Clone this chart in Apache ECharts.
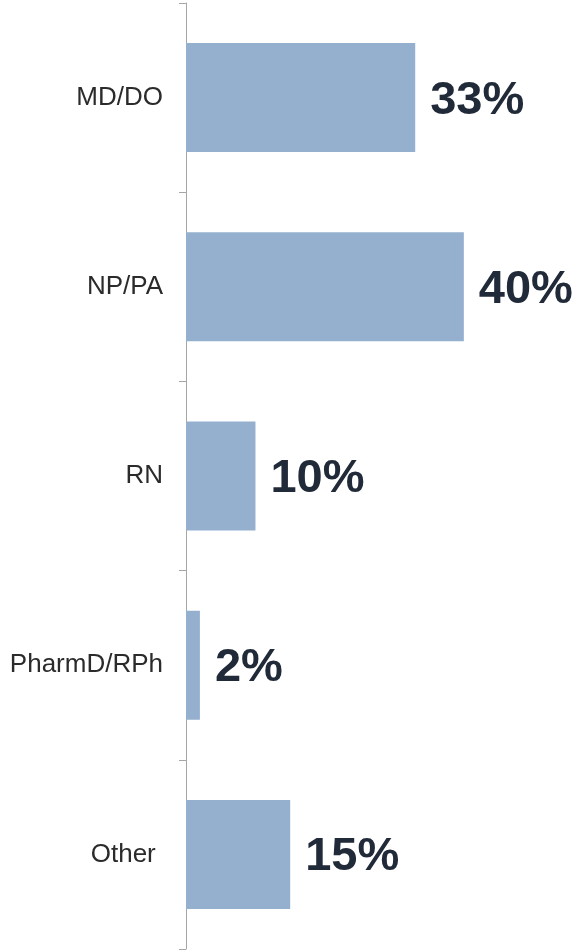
<!DOCTYPE html>
<html>
<head>
<meta charset="utf-8">
<script src="https://cdn.jsdelivr.net/npm/echarts@6/dist/echarts.min.js"></script>
<style>
  html, body { margin: 0; padding: 0; background: #fff; }
  #chart { width: 579px; height: 951px; }
</style>
</head>
<body>
<div id="chart"></div>
<script>
// 数据
const categories = ['MD/DO', 'NP/PA', 'RN', 'PharmD/RPh', 'Other '];
const shares = [33, 40, 10, 2, 15];

const chart = echarts.init(document.getElementById('chart'));

chart.setOption({
  animation: false,
  grid: {
    left: 186,
    top: 3,
    bottom: 2,
    width: 347.3
  },
  xAxis: {
    type: 'value',
    min: 0,
    max: 50,
    show: false
  },
  yAxis: {
    type: 'category',
    inverse: true,
    data: categories,
    axisLine: { show: true, lineStyle: { color: '#a6a6a6', width: 1 } },
    axisTick: { show: true, length: 7, lineStyle: { color: '#a6a6a6' } },
    axisLabel: {
      margin: 23,
      padding: [3, 0, 0, 0],
      fontFamily: 'Liberation Sans, Arial, sans-serif',
      fontSize: 26,
      color: '#2b2b2b'
    }
  },
  series: [{
    type: 'bar',
    data: shares,
    barWidth: '57.6%',
    itemStyle: { color: '#95afcf' },
    label: {
      show: true,
      position: 'right',
      distance: 15,
      offset: [0, 3],
      formatter: p => p.value + '%',
      fontFamily: 'Liberation Sans, Arial, sans-serif',
      fontWeight: 'bold',
      fontSize: 47,
      color: '#212a38'
    }
  }]
});
</script>
</body>
</html>
